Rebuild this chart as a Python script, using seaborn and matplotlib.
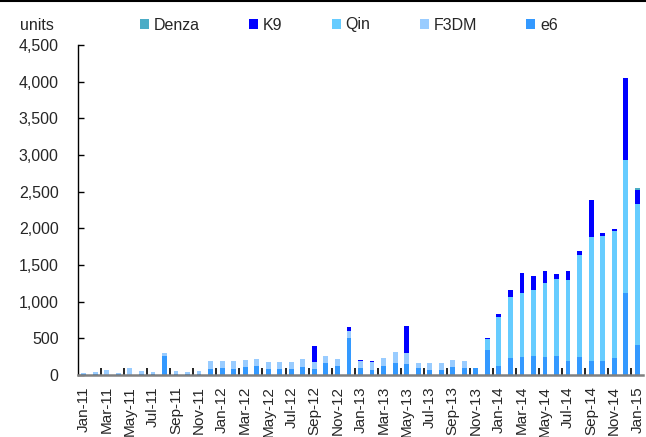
import matplotlib
matplotlib.use("Agg")
import matplotlib.pyplot as plt
from matplotlib.patches import Patch
from matplotlib.lines import Line2D
from matplotlib.ticker import FuncFormatter
import numpy as np
import pandas as pd
import seaborn as sns

# monthly BYD new-energy vehicle sales, Jan-11 .. Jan-15
months = pd.date_range("2011-01-01", periods=49, freq="MS").strftime("%b-%y").tolist()

e6 = [15, 10, 5, 15, 5, 10, 10, 255, 15, 10, 15, 85,
      90, 85, 105, 120, 80, 80, 80, 105, 80, 160, 120, 500,
      95, 75, 120, 160, 145, 95, 65, 75, 105, 90, 90, 345,
      120, 230, 240, 255, 240, 255, 195, 250, 185, 185, 230, 1120,
      415]
f3dm = [10, 30, 70, 10, 90, 40, 25, 45, 35, 30, 40, 100,
        100, 110, 105, 105, 100, 100, 100, 120, 100, 105, 95, 105,
        100, 105, 110, 155, 150, 65, 95, 85, 105, 95, 3, 0,
        0, 0, 0, 0, 0, 0, 0, 0, 0, 0, 0, 0,
        0]
qin = [0] * 35 + [140, 676, 840, 880, 905, 1010, 1050, 1100, 1390, 1700, 1705, 1735, 1810, 1913]
k9 = [0, 0, 0, 0, 0, 0, 0, 0, 0, 0, 0, 0,
      0, 0, 0, 0, 0, 0, 0, 0, 209, 0, 0, 55,
      15, 5, 8, 0, 375, 5, 8, 8, 0, 0, 0, 25,
      40, 85, 275, 195, 170, 75, 120, 45, 500, 50, 25, 1125,
      200]
denza = [0] * 48 + [25]

series = [("e6", e6, "#3399FF"), ("F3DM", f3dm, "#99CCFF"), ("Qin", qin, "#66CCFF"),
          ("K9", k9, "#0000FF"), ("Denza", denza, "#4BACC6")]
legend_order = ["Denza", "K9", "Qin", "F3DM", "e6"]

sns.set_style("white")
plt.rcParams["font.family"] = ["Liberation Sans", "DejaVu Sans"]

fig = plt.figure(figsize=(6.46, 4.37), dpi=100)
ax = fig.add_axes([78 / 646, 1 - 375 / 437, (643 - 78) / 646, (375 - 45) / 437])

bottom = np.zeros(len(months))
for name, vals, col in series:
    sns.barplot(x=months, y=vals, bottom=bottom, color=col, saturation=1,
                width=0.42, linewidth=0, errorbar=None, ax=ax)
    bottom = bottom + np.array(vals)

ax.set_xlim(-0.5, len(months) - 0.5)
ax.set_ylim(0, 4500)
ax.set_yticks(np.arange(0, 4501, 500))
ax.yaxis.set_major_formatter(FuncFormatter(lambda v, p: f"{v:,.0f}"))
ax.tick_params(axis="y", direction="in", length=4, width=1, color="black",
               labelsize=11.5, pad=14, left=True)

ax.set_xticks(range(0, len(months), 2))
ax.set_xticklabels(months[::2], rotation=90)
ax.set_xticks(np.arange(1.5, len(months) - 1, 2), minor=True)
ax.tick_params(axis="x", which="major", length=0, labelsize=11, pad=8)
ax.tick_params(axis="x", which="minor", direction="in", length=5, width=1.2,
               color="black", bottom=True)
ax.set_xlabel("")
ax.set_ylabel("")

for s in ["top", "right"]:
    ax.spines[s].set_visible(False)
ax.spines["left"].set_color("black")
ax.spines["left"].set_linewidth(1)
ax.spines["bottom"].set_color("#808080")
ax.spines["bottom"].set_linewidth(1.8)

colors = {n: c for n, _, c in series}
handles = [Patch(facecolor=colors[n], edgecolor="none", label=n) for n in legend_order]
fig.legend(handles=handles, loc="center", bbox_to_anchor=(349 / 646, 1 - 25 / 437),
           ncol=5, frameon=False, fontsize=11.5, handlelength=0.55, handleheight=0.55,
           handletextpad=0.3, columnspacing=3.1, borderaxespad=0)

fig.text(20 / 646, 1 - 25 / 437, "units", fontsize=11.5, va="center", ha="left")
fig.add_artist(Line2D([0, 1], [0.997, 0.997], color="black", linewidth=1.5,
                      transform=fig.transFigure))

fig.savefig("out.png", dpi=100)
